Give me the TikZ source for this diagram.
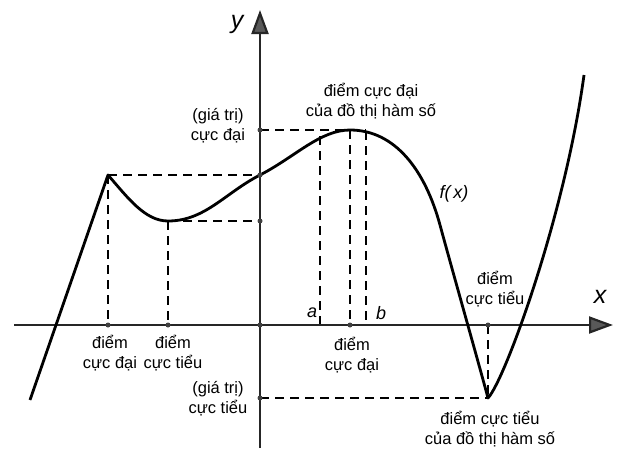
\documentclass[tikz,border=0pt]{standalone}
\usepackage{fontspec}
\setmainfont{Liberation Sans}
\usetikzlibrary{arrows.meta}
\begin{document}
\begin{tikzpicture}[x=1pt,y=-1pt,
  lbl/.style={font=\fontsize{16.5}{20}\selectfont, align=center, inner sep=0pt},
  varlbl/.style={font=\fontsize{18}{20}\selectfont\itshape, inner sep=0pt},
  axislbl/.style={font=\fontsize{25}{28}\selectfont\itshape, inner sep=0pt},
  axisline/.style={line width=2.2pt, draw=black!85, -{Triangle[width=17pt,length=24pt,fill=black!65]}},
  dashline/.style={line width=1.6pt, dash pattern=on 9pt off 6pt},
  curveline/.style={line width=2.8pt, line join=round},
  dotmark/.style={circle, fill=black!75, inner sep=0pt, minimum size=5pt}
]
\useasboundingbox (0,0) rectangle (620,450);
% points
\coordinate (xs) at (14,325);
\coordinate (xe) at (613,325);
\coordinate (ys) at (260,448);
\coordinate (ye) at (260,10);
\coordinate (L0) at (30,400);
\coordinate (P1) at (108,175);
\coordinate (M1) at (168,221);
\coordinate (Y1) at (260,175);
\coordinate (Y2) at (260,221);
\coordinate (Ymax) at (260,130);
\coordinate (Ymin) at (260,398);
\coordinate (Max) at (350,130);
\coordinate (Min) at (488,398);
\coordinate (Ca) at (320,136);
\coordinate (Cb) at (366,131);
\coordinate (Hb) at (366,130);
\coordinate (Xp1) at (108,325);
\coordinate (Xm1) at (168,325);
\coordinate (Xa) at (320,325);
\coordinate (Xmax) at (350,325);
\coordinate (Xb) at (366,325);
\coordinate (Xmin) at (488,325);
\coordinate (R0) at (584,75);

% dashed guides
\draw[dashline] (P1) -- (Y1);
\draw[dashline] (P1) -- (Xp1);
\draw[dashline] (M1) -- (Y2);
\draw[dashline] (M1) -- (Xm1);
\draw[dashline] (Ymax) -- (Hb);
\draw[dashline] (Ca) -- (Xa);
\draw[dashline] (Max) -- (Xmax);
\draw[dashline] (Cb) -- (Xb);
\draw[dashline] (Ymin) -- (Min);
\draw[dashline] (Xmin) -- (Min);

% axes
\draw[axisline] (xs) -- (xe);
\draw[axisline] (ys) -- (ye);

% curve
\draw[curveline] (L0) -- (P1)
  .. controls (128,198) and (145,221) .. (M1)
  .. controls (205,221) and (225,193) .. (Y1)
  .. controls (295,157) and (320,130) .. (Max)
  .. controls (395,130) and (425,170) .. (440,225)
  .. controls (455,280) and (475,350) .. (Min)
  .. controls (505,380) and (565,215) .. (R0);

% dots
\foreach \p in {Xp1,Xm1,Xmax,Xmin,Y1,Y2,Ymax,Ymin}
  \node[dotmark] at (\p) {};
\node[dotmark] at (260,325) {};

% labels
\node[axislbl] (ylab) at (237,24) {y};
\node[axislbl] (xlab) at (600,297) {x};
\node[varlbl] (flab) at (454,194) {f(\,x)};
\node[varlbl] (alab) at (312,313) {a};
\node[varlbl] (blab) at (381,313) {b};
\node[lbl] (l1) at (110,353) {điểm\\cực đại};
\node[lbl] (l2) at (173,353) {điểm\\cực tiểu};
\node[lbl] (l3) at (218,126) {(giá trị)\\cực đại};
\node[lbl] (l4) at (218,399) {(giá trị)\\cực tiểu};
\node[lbl] (l5) at (371,101) {điểm cực đại\\của đồ thị hàm số};
\node[lbl] (l6) at (495,289) {điểm\\cực tiểu};
\node[lbl] (l7) at (352,355) {điểm\\cực đại};
\node[lbl] (l8) at (490,429) {điểm cực tiểu\\của đồ thị hàm số};
\end{tikzpicture}
\end{document}
